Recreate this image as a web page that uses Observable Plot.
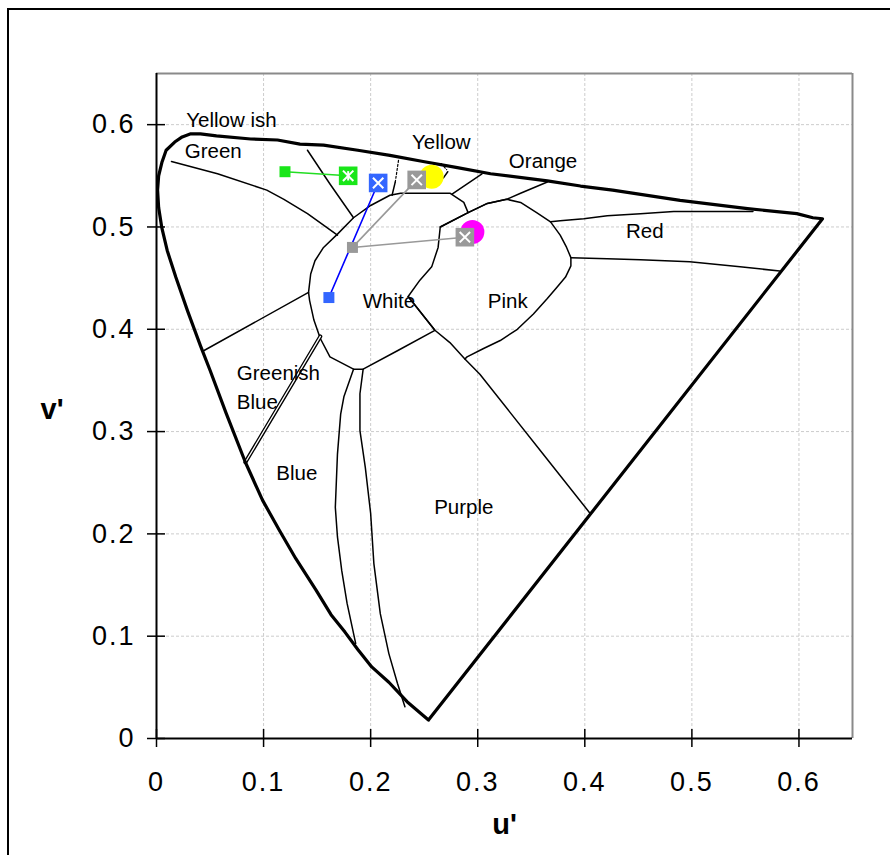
<!DOCTYPE html>
<html>
<head>
<meta charset="utf-8">
<script src="https://cdn.jsdelivr.net/npm/d3@7"></script>
<script src="https://cdn.jsdelivr.net/npm/@observablehq/plot@0.6"></script>
<style>
  html, body { margin: 0; padding: 0; background: #fff; overflow: hidden; }
  #wrap { position: relative; width: 890px; height: 855px; overflow: hidden; }
  #border { position: absolute; left: 7px; top: 8px; width: 1000px; height: 1000px;
            border-left: 2px solid #000; border-top: 2px solid #000; }
  #chart { position: absolute; left: 0; top: 0; }
  .ticklabels text { letter-spacing: 2px; }
</style>
</head>
<body>
<div id="wrap"><div id="border"></div><div id="chart"></div></div>
<script>
// CIE 1976 u'v' chromaticity diagram with named colour regions

const xTicks = [0, 0.1, 0.2, 0.3, 0.4, 0.5, 0.6];
const yTicks = [0, 0.1, 0.2, 0.3, 0.4, 0.5, 0.6];
const tickLabels = ["0", "0.1", "0.2", "0.3", "0.4", "0.5", "0.6"];

// spectral locus, from the violet end round to the red end
const locus = [
  [0.254,0.018],[0.234,0.036],[0.217,0.055],[0.201,0.070],[0.188,0.087],[0.176,0.104],
  [0.163,0.121],[0.149,0.145],[0.130,0.176],[0.115,0.203],[0.099,0.233],[0.083,0.270],
  [0.065,0.318],[0.050,0.360],[0.041,0.384],[0.029,0.418],[0.018,0.451],[0.010,0.477],
  [0.005,0.499],[0.002,0.519],[0.001,0.536],[0.002,0.550],[0.005,0.563],[0.009,0.575],
  [0.017,0.583],[0.024,0.588],[0.032,0.591],[0.041,0.591],[0.056,0.589],[0.088,0.586],
  [0.113,0.585],[0.134,0.581],[0.156,0.580],[0.188,0.575],[0.218,0.570],[0.249,0.564],
  [0.281,0.558],[0.312,0.552],[0.365,0.545],[0.396,0.540],[0.426,0.536],[0.489,0.526],
  [0.552,0.518],[0.598,0.513],[0.613,0.509],[0.622,0.508]
];

// region boundaries
const whiteOutline = [
  [0.218,0.531],[0.228,0.533],[0.274,0.533],[0.287,0.524],[0.291,0.514],[0.265,0.500],
  [0.263,0.480],[0.257,0.461],[0.246,0.448],[0.235,0.432],[0.260,0.399],[0.225,0.379],
  [0.193,0.361],[0.184,0.361],[0.162,0.373],[0.153,0.391],[0.147,0.409],[0.143,0.428],
  [0.142,0.436],[0.144,0.454],[0.148,0.467],[0.156,0.480],[0.169,0.493],[0.184,0.509],
  [0.200,0.521],[0.218,0.531]
];
const pinkOutline = [
  [0.291,0.514],[0.309,0.523],[0.327,0.527],[0.340,0.524],[0.355,0.514],[0.368,0.505],
  [0.377,0.492],[0.383,0.480],[0.387,0.470],[0.387,0.462],[0.382,0.451],[0.374,0.441],
  [0.365,0.430],[0.352,0.415],[0.337,0.400],[0.321,0.389],[0.305,0.381],[0.290,0.373],
  [0.288,0.371]
];
const pinkPurple = [
  [0.235,0.432],[0.260,0.399],[0.274,0.387],[0.288,0.371],[0.302,0.356],[0.330,0.319],
  [0.361,0.278],[0.405,0.220]
];
const orangeLower = [
  [0.365,0.544],[0.340,0.533],[0.327,0.527],[0.309,0.523],[0.291,0.514],[0.265,0.500]
];
const yellowOrange = [[0.304,0.552],[0.276,0.532]];
const yellowLeftDotted = [[0.226,0.565],[0.223,0.544]];
const yellowLeft = [[0.223,0.544],[0.220,0.531]];
const yellowRightDotted = [[0.266,0.562],[0.271,0.556]];
const yellowRight = [[0.272,0.554],[0.268,0.548]];
const yellowishGreen = [[0.141,0.575],[0.162,0.542],[0.184,0.509]];
const greenUpper = [
  [0.014,0.564],[0.057,0.552],[0.103,0.536],[0.119,0.527],[0.141,0.513],[0.169,0.492]
];
const greenLower = [[0.044,0.379],[0.142,0.436]];
const greenishBlue = [[0.153,0.393],[0.083,0.270]];
const redUpper = [
  [0.368,0.505],[0.377,0.506],[0.399,0.508],[0.421,0.511],[0.452,0.513],[0.483,0.515],
  [0.514,0.515],[0.557,0.515]
];
const redLower = [
  [0.387,0.470],[0.421,0.469],[0.452,0.468],[0.498,0.466],[0.545,0.461],[0.582,0.457]
];
const bluePurpleLeft = [
  [0.184,0.361],[0.175,0.334],[0.172,0.317],[0.169,0.278],[0.167,0.226],[0.169,0.197],
  [0.173,0.164],[0.178,0.132],[0.186,0.093]
];
const bluePurpleRight = [
  [0.193,0.361],[0.190,0.337],[0.190,0.301],[0.195,0.265],[0.200,0.220],[0.203,0.171],
  [0.209,0.122],[0.217,0.083],[0.225,0.054],[0.232,0.031]
];

// region names
const regionNames = ["Yellow ish", "Green", "Yellow", "Orange", "Red", "White", "Pink", "Blue", "Purple"];
const regionU = [0.070, 0.053, 0.266, 0.361, 0.456, 0.217, 0.328, 0.131, 0.287];
const regionV = [0.604, 0.574, 0.583, 0.564, 0.496, 0.427, 0.427, 0.259, 0.226];
const leftNames = ["Greenish", "Blue"];
const leftU = [0.075, 0.075];
const leftV = [0.357, 0.328];

// colour test points: measured start (small squares) and shifted results (crossed squares)
const startPoints = [[0.120,0.554],[0.161,0.431],[0.183,0.480]];
const startColors = ["#19e619", "#3366ff", "#999999"];
const endPoints = [[0.179,0.550],[0.207,0.543],[0.243,0.546],[0.288,0.490]];
const endColors = ["#19e619", "#3366ff", "#999999", "#999999"];
const links = [[0,0],[1,1],[2,2],[2,3]];
const linkColors = ["#22dd22", "#0000ff", "#999999", "#999999"];
const targets = [[0.257,0.549],[0.295,0.495]];
const targetColors = ["#ffff00", "#ff00ff"];

const linkSegments = links.flatMap(([s, e], i) => [
  {id: i, u: startPoints[s][0], v: startPoints[s][1], c: linkColors[i]},
  {id: i, u: endPoints[e][0], v: endPoints[e][1], c: linkColors[i]}
]);

const line = (pts, o = {}) => Plot.line(pts, {x: d => d[0], y: d => d[1], stroke: "#000", strokeWidth: 1.5, ...o});
const vbar = {draw(ctx, size) { const r = Math.sqrt(size) * 0.55; ctx.moveTo(0, -r); ctx.lineTo(0, r); }};

const font = "'Liberation Sans', Arial, Helvetica, sans-serif";

const chart = Plot.plot({
  width: 890,
  height: 855,
  marginLeft: 156,
  marginRight: 38,
  marginTop: 73,
  marginBottom: 117,
  x: {domain: [0, 0.65]},
  y: {domain: [0, 0.65]},
  style: {fontFamily: font, background: "transparent", color: "#000"},
  marks: [
    Plot.gridX({ticks: xTicks, stroke: "#cccccc", strokeOpacity: 1, strokeDasharray: "3,2"}),
    Plot.gridY({ticks: yTicks, stroke: "#cccccc", strokeOpacity: 1, strokeDasharray: "3,2"}),
    Plot.ruleY([0.65], {stroke: "#8a8a8a", strokeWidth: 2}),
    Plot.ruleX([0.65], {stroke: "#8a8a8a", strokeWidth: 2}),

    line(whiteOutline),
    line(pinkOutline),
    line(pinkPurple),
    line(orangeLower),
    line(yellowOrange),
    line(yellowLeftDotted, {strokeDasharray: "2,2", strokeWidth: 1.2}),
    line(yellowLeft),
    line(yellowRightDotted, {strokeDasharray: "2,2", strokeWidth: 1.2}),
    line(yellowRight),
    line(yellowishGreen),
    line(greenUpper),
    line(greenLower),
    line(greenishBlue, {strokeWidth: 4}),
    line(greenishBlue, {stroke: "#fff", strokeWidth: 1.3}),
    line(redUpper),
    line(redLower),
    line(bluePurpleLeft),
    line(bluePurpleRight),
    line(locus.concat([locus[0]]), {strokeWidth: 3.2, strokeLinejoin: "round"}),

    Plot.text(regionNames, {x: (d, i) => regionU[i], y: (d, i) => regionV[i], text: d => d, fontSize: 20.5, fill: "#000"}),
    Plot.text(leftNames, {x: (d, i) => leftU[i], y: (d, i) => leftV[i], text: d => d, fontSize: 20.5, textAnchor: "start", fill: "#000"}),

    Plot.line(linkSegments, {x: "u", y: "v", z: "id", stroke: "c", strokeWidth: 1.6}),
    Plot.dot(targets, {x: d => d[0], y: d => d[1], r: 12, fill: (d, i) => targetColors[i], stroke: null}),
    Plot.dot(startPoints, {x: d => d[0], y: d => d[1], symbol: "square", r: 6.2, fill: (d, i) => startColors[i], stroke: null}),
    Plot.dot(endPoints, {x: d => d[0], y: d => d[1], symbol: "square", r: 10.5, fill: (d, i) => endColors[i], stroke: null}),
    Plot.dot(endPoints, {x: d => d[0], y: d => d[1], symbol: "times", r: 4.8, stroke: "#fff", strokeWidth: 2}),
    Plot.dot(endPoints.slice(0, 1), {x: d => d[0], y: d => d[1], symbol: vbar, r: 4.8, stroke: "#fff", strokeWidth: 2}),

    Plot.ruleX([0], {stroke: "#000", strokeWidth: 2}),
    Plot.ruleY([0], {stroke: "#000", strokeWidth: 2}),
    Plot.axisX({ticks: xTicks, tickFormat: (d, i) => tickLabels[i], tickSize: 18, dy: -9, tickPadding: 24,
                fontSize: 27, strokeWidth: 1.5, label: null, className: "ticklabels"}),
    Plot.axisY({ticks: yTicks, tickFormat: (d, i) => tickLabels[i], tickSize: 18, dx: 9, tickPadding: 12,
                fontSize: 27, strokeWidth: 1.5, label: null, className: "ticklabels"}),
    Plot.text(["u'"], {frameAnchor: "bottom", dy: 95, text: d => d, fontSize: 29, fontWeight: "bold", fill: "#000"}),
    Plot.text(["v'"], {frameAnchor: "left", dx: -116, dy: 4, text: d => d, fontSize: 29, fontWeight: "bold", fill: "#000"})
  ]
});

document.getElementById("chart").appendChild(chart);
</script>
</body>
</html>
